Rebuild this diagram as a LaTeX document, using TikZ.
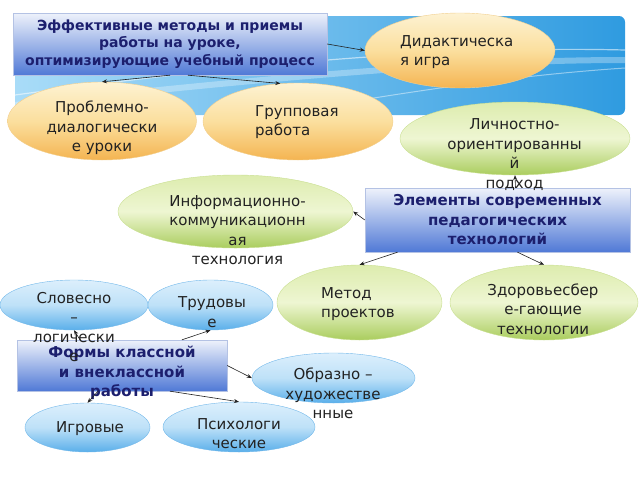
\documentclass[tikz,border=0pt]{standalone}
\usepackage{fontspec}
\setmainfont{DejaVu Sans}
\usetikzlibrary{shapes.geometric,arrows.meta}

\definecolor{navy}{HTML}{1C1F6E}
\definecolor{ink}{HTML}{222222}
\definecolor{orTop}{HTML}{FDF2D2}
\definecolor{orMid}{HTML}{FBDF9E}
\definecolor{orBot}{HTML}{F4B451}
\definecolor{orEdge}{HTML}{F2CF8E}
\definecolor{grTop}{HTML}{DDECAE}
\definecolor{grMid}{HTML}{EEF6D2}
\definecolor{grBot}{HTML}{AACD5E}
\definecolor{grEdge}{HTML}{C9DF92}
\definecolor{blTop}{HTML}{DCEFFC}
\definecolor{blMid}{HTML}{BEE1F8}
\definecolor{blBot}{HTML}{5AAFEA}
\definecolor{blEdge}{HTML}{72B8EA}
\definecolor{bxTop}{HTML}{EEF2FB}
\definecolor{bxBot}{HTML}{5079D6}
\definecolor{bxEdge}{HTML}{B4C2E4}
\definecolor{bnLeft}{HTML}{A9DCF8}
\definecolor{bnRight}{HTML}{2F9BE0}

\tikzset{
  orbub/.style={ellipse, draw=orEdge, top color=orTop, bottom color=orBot, middle color=orMid, inner sep=0pt},
  grbub/.style={ellipse, draw=grEdge, top color=grTop, bottom color=grBot, middle color=grMid, inner sep=0pt},
  blbub/.style={ellipse, draw=blEdge, top color=blTop, bottom color=blBot, middle color=blMid, inner sep=0pt},
  hbox/.style={rectangle, draw=bxEdge, top color=bxTop, bottom color=bxBot, inner sep=0pt},
  btxt/.style={font=\bfseries\fontsize{15}{19.5}\selectfont, text=navy, align=center, inner sep=0pt},
  etxt/.style={font=\fontsize{15}{19.5}\selectfont, text=ink, align=center, inner sep=0pt},
  arr/.style={->, >={Stealth[length=5pt,width=4pt]}, draw=ink, line width=0.6pt}
}

\begin{document}
\begin{tikzpicture}[x=1pt,y=-1pt]
    \useasboundingbox (0,0) rectangle (640,480);

    % banner behind the top row
    \begin{scope}
        \clip[rounded corners=6pt] (15,16) rectangle (625,115);
        \shade[left color=bnLeft, right color=bnRight] (15,16) rectangle (625,115);
        \draw[white, opacity=.55, line width=1.2pt] (15,95) .. controls (200,70) and (420,45) .. (625,50);
        \draw[white, opacity=.45, line width=1pt] (300,110) .. controls (420,90) and (520,75) .. (625,68);
        \draw[white, opacity=.3, line width=6pt] (15,105) .. controls (250,80) and (450,60) .. (625,60);
    \end{scope}

    % bubbles
    \node[orbub, minimum width=190pt, minimum height=75pt] (did) at (460,50.5) {};
    \node[orbub, minimum width=189pt, minimum height=78pt] (prob) at (102,121) {};
    \node[orbub, minimum width=190pt, minimum height=77pt] (grp) at (298,121.5) {};
    \node[grbub, minimum width=230pt, minimum height=73pt] (lich) at (515,138.5) {};
    \node[grbub, minimum width=235pt, minimum height=73pt] (info) at (235.5,211.5) {};
    \node[grbub, minimum width=165pt, minimum height=75pt] (metod) at (359.5,302.5) {};
    \node[grbub, minimum width=188pt, minimum height=75pt] (zdor) at (544,302.5) {};
    \node[blbub, minimum width=148pt, minimum height=50pt] (slov) at (74,305) {};
    \node[blbub, minimum width=125pt, minimum height=50pt] (trud) at (210.5,305) {};
    \node[blbub, minimum width=163pt, minimum height=50pt] (obr) at (333.5,378) {};
    \node[blbub, minimum width=125pt, minimum height=49pt] (igr) at (87.5,427.5) {};
    \node[blbub, minimum width=152pt, minimum height=50pt] (psy) at (239,427) {};

    % headings
    \node[hbox, minimum width=314pt, minimum height=62pt, btxt, font=\bfseries\fontsize{14}{17.5}\selectfont] (eff) at (170,44) {Эффективные методы и приемы\\работы на уроке,\\оптимизирующие учебный процесс};
    \node[hbox, minimum width=265pt, minimum height=64pt, btxt] (elem) at (497.5,220) {Элементы современных\\педагогических\\технологий};
    \node[hbox, minimum width=210pt, minimum height=51pt] (form) at (122,365.5) {};

    % texts
    \node[etxt, anchor=west, align=left] (didt) at (400,52) {Дидактическа\\я игра};
    \node[etxt] (probt) at (102,128) {Проблемно-\\диалогически\\е уроки};
    \node[etxt, anchor=west, align=left] (grpt) at (255,122) {Групповая\\работа};
    \node[etxt] (licht) at (514.5,154.5) {Личностно-\\ориентированны\\й\\подход};
    \node[etxt] (infot) at (237.5,230) {Информационно-\\коммуникационн\\ая\\технология};
    \node[etxt, anchor=west, align=left] (metodt) at (321,304) {Метод\\проектов};
    \node[etxt] (zdort) at (543,309) {Здоровьесбер\\е-гающие\\технологии};
    \node[btxt] (formt) at (122,373) {Формы классной\\и внеклассной\\работы};
    \node[etxt] (slovt) at (74,327) {Словесно\\–\\логически\\е};
    \node[etxt] (trudt) at (212,312) {Трудовы\\е};
    \node[etxt] (obrt) at (333,393.5) {Образно –\\художестве\\нные};
    \node[etxt] (igrt) at (90,429) {Игровые};
    \node[etxt] (psyt) at (239,433.5) {Психологи\\ческие};

    % connectors
    \draw[arr] (eff.east) to (did.west);
    \draw[arr] (eff.south) to (prob.north);
    \draw[arr] ([xshift=18pt]eff.south) to (grp.115);
    \draw[arr] ([xshift=18pt]elem.north) to (lich.south);
    \draw[arr] (elem.west) to (info.east);
    \draw[arr] ([xshift=-100pt]elem.south) to (metod.north);
    \draw[arr] ([xshift=20pt]elem.south) to (zdor.north);
    \draw[arr] ([xshift=60pt]form.north) to (trud.south);
    \draw[arr] ([xshift=-42pt]form.north) to (slov.south);
    \draw[arr] (form.east) to (obr.west);
    \draw[arr] ([xshift=-24pt]form.south) to (igr.north);
    \draw[arr] ([xshift=48pt]form.south) to (psy.north);
\end{tikzpicture}
\end{document}
